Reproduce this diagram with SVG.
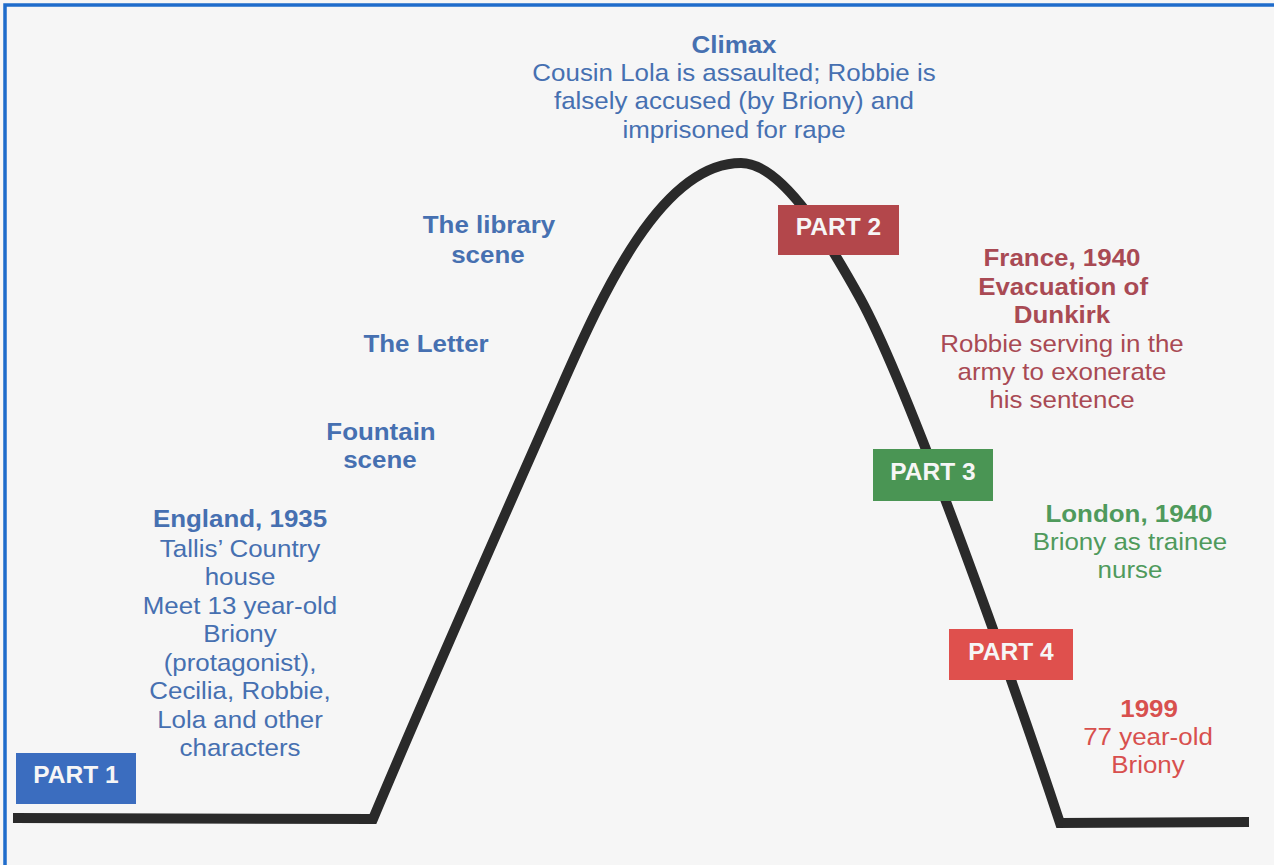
<svg xmlns="http://www.w3.org/2000/svg" width="1274" height="865" viewBox="0 0 1274 865">
  <style>
    text { font-family: "Liberation Sans", Arial, sans-serif; text-anchor: middle; }
    .b { font-weight: bold; font-size: 24px; }
    .r { font-size: 24px; }
    .blue { fill: #4670b1; }
    .wine { fill: #a94a54; }
    .green { fill: #4f9a5c; }
    .coral { fill: #d8504e; }
    .tag { font-weight: bold; font-size: 24.5px; fill: #f6f6f6; }
  </style>

  <!-- paper -->
  <rect x="0" y="0" width="1274" height="865" fill="#f6f6f6"/>
  <!-- frame edge, left and top -->
  <path d="M5,865 V5 H1274" fill="none" stroke="#1f6ccb" stroke-width="3.5"/>

  <!-- plot arc: flat start, rising side, rounded summit, falling side, flat end -->
  <g id="connectors" fill="none" stroke="#2a2a2a" stroke-width="10" stroke-linejoin="miter">
    <path d="M13,818 L373,819
             C419,709 529,460 560,390
             C604,290 662,163 741,163
             C785,163 835,253 860,298
             C909.5,388 1017,693 1060,823
             L1249,822"/>
  </g>

  <!-- part tags -->
  <g id="part1">
    <rect x="16" y="753" width="120" height="51" fill="#3b6dbf"/>
    <text class="tag" x="76" y="783">PART 1</text>
  </g>
  <g id="part2">
    <rect x="778" y="205" width="121" height="50" fill="#b3474b"/>
    <text class="tag" x="838.5" y="235">PART 2</text>
  </g>
  <g id="part3">
    <rect x="873" y="449" width="120" height="52" fill="#4a9554"/>
    <text class="tag" x="933" y="480">PART 3</text>
  </g>
  <g id="part4">
    <rect x="949" y="629" width="124" height="51" fill="#df504d"/>
    <text class="tag" x="1011" y="660">PART 4</text>
  </g>

  <!-- climax -->
  <g id="climax" class="blue" transform="translate(734,0) scale(1.08,1)">
    <text class="b" x="0" y="53">Climax</text>
    <text class="r" x="0" y="81">Cousin Lola is assaulted; Robbie is</text>
    <text class="r" x="0" y="109.5">falsely accused (by Briony) and</text>
    <text class="r" x="0" y="138">imprisoned for rape</text>
  </g>

  <!-- rising action -->
  <g id="library" class="blue" transform="translate(489,0) scale(1.08,1)">
    <text class="b" x="0" y="233">The library</text>
    <text class="b" x="-1" y="263">scene</text>
  </g>
  <g id="letter" class="blue" transform="translate(426,0) scale(1.08,1)">
    <text class="b" x="0" y="352">The Letter</text>
  </g>
  <g id="fountain" class="blue" transform="translate(381,0) scale(1.08,1)">
    <text class="b" x="0" y="440">Fountain</text>
    <text class="b" x="-1" y="468">scene</text>
  </g>

  <!-- exposition -->
  <g id="england" class="blue" transform="translate(240,0) scale(1.08,1)">
    <text class="b" x="0" y="527">England, 1935</text>
    <text class="r" x="0" y="557">Tallis’ Country</text>
    <text class="r" x="0" y="585">house</text>
    <text class="r" x="0" y="614">Meet 13 year-old</text>
    <text class="r" x="0" y="642">Briony</text>
    <text class="r" x="0" y="671">(protagonist),</text>
    <text class="r" x="0" y="699">Cecilia, Robbie,</text>
    <text class="r" x="0" y="728">Lola and other</text>
    <text class="r" x="0" y="756">characters</text>
  </g>

  <!-- falling action -->
  <g id="france" class="wine" transform="translate(1062,0) scale(1.08,1)">
    <text class="b" x="0" y="266">France, 1940</text>
    <text class="b" x="1" y="295">Evacuation of</text>
    <text class="b" x="0" y="323">Dunkirk</text>
    <text class="r" x="0" y="352">Robbie serving in the</text>
    <text class="r" x="0" y="380">army to exonerate</text>
    <text class="r" x="0" y="408">his sentence</text>
  </g>
  <g id="london" class="green" transform="translate(1130,0) scale(1.08,1)">
    <text class="b" x="-1" y="522">London, 1940</text>
    <text class="r" x="0" y="550">Briony as trainee</text>
    <text class="r" x="0" y="578">nurse</text>
  </g>
  <g id="y1999" class="coral" transform="translate(1148,0) scale(1.08,1)">
    <text class="b" x="1" y="717">1999</text>
    <text class="r" x="0" y="745">77 year-old</text>
    <text class="r" x="0" y="773">Briony</text>
  </g>
</svg>
